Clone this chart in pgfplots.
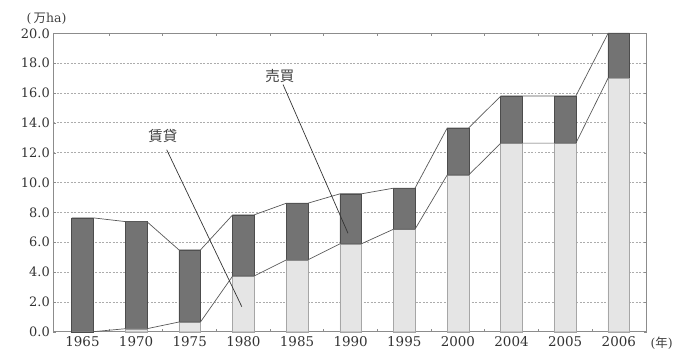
\documentclass[border=0pt]{standalone}
\usepackage{pgfplots}
\pgfplotsset{compat=1.18}
\usepackage{fontspec}
\setmainfont{DejaVu Serif}
\newfontfamily\cjk{Noto Sans CJK JP}
\definecolor{darkbar}{gray}{0.45}
\definecolor{lightbar}{gray}{0.90}
\definecolor{framegray}{gray}{0.55}
\begin{document}
\begin{tikzpicture}[x=1bp,y=1bp]
\path[use as bounding box] (-53.3bp,-26.3bp) rectangle (626.7bp,331.7bp);
\begin{axis}[
  at={(0,0)}, anchor=south west,
  scale only axis, width=593.4bp, height=298.4bp,
  xmin=-0.544, xmax=10.52, ymin=0, ymax=20,
  ybar stacked, bar width=21.7bp,
  xtick={0,...,10},
  xticklabels={1965,1970,1975,1980,1985,1990,1995,2000,2004,2005,2006},
  minor xtick={0.5,1.5,...,9.5},
  ytick={0,2,...,20},
  /pgf/number format/.cd, fixed, fixed zerofill, precision=1, assume math mode=true,
  /pgfplots/.cd,
  yticklabel style={font=\fontsize{13}{15}\selectfont, text=black!80},
  xticklabel style={font=\fontsize{13.5}{15}\selectfont, text=black!80, yshift=-1bp},
  axis line style={framegray, line width=0.8pt},
  tick style={framegray},
  major tick length=3bp, minor tick length=2.5bp,
  xtick style={draw=none},
  minor x tick style={draw=framegray, line width=1pt},
  ymajorgrids, grid style={gray!65, dash pattern=on 2pt off 1.5pt, line width=0.7pt},
  clip=false,
]
% lower (light) part
\addplot[fill=lightbar, draw=gray!70] coordinates {
(0,0.0) (1,0.2) (2,0.65) (3,3.73) (4,4.81) (5,5.89) (6,6.87) (7,10.5) (8,12.64) (9,12.64) (10,17.0)};
% upper (dark) part: total minus light
\addplot[fill=darkbar, draw=gray!60!black] coordinates {
(0,7.63) (1,7.18) (2,4.83) (3,4.10) (4,3.80) (5,3.35) (6,2.75) (7,3.15) (8,3.16) (9,3.16) (10,3.0)};
\end{axis}
\begin{axis}[
  at={(0,0)}, anchor=south west,
  scale only axis, width=593.4bp, height=298.4bp,
  xmin=-0.544, xmax=10.52, ymin=0, ymax=20,
  hide axis, clip=false,
]
% connecting line of totals
\addplot[gray!70!black, line width=0.7pt] coordinates {
(-0.2,7.63) (0.2,7.63) (0.8,7.38) (1.2,7.38) (1.8,5.48) (2.2,5.48)
(2.8,7.83) (3.2,7.83) (3.8,8.61) (4.2,8.61) (4.8,9.24) (5.2,9.24)
(5.8,9.62) (6.2,9.62) (6.8,13.65) (7.2,13.65) (7.8,15.8) (8.2,15.8)
(8.8,15.8) (9.2,15.8) (9.8,20.0) (10.2,20.0)};
% connecting line of lower part
\addplot[gray!70!black, line width=0.7pt] coordinates {
(0.2,0.0) (0.8,0.2) (1.2,0.2) (1.8,0.65) (2.2,0.65)
(2.8,3.73) (3.2,3.73) (3.8,4.81) (4.2,4.81) (4.8,5.89) (5.2,5.89)
(5.8,6.87) (6.2,6.87) (6.8,10.5) (7.2,10.5) (7.8,12.64) (8.2,12.64)
(8.8,12.64) (9.2,12.64) (9.8,17.0)};
% leader lines
\addplot[gray!40!black, line width=0.7pt] coordinates {(1.57,12.2) (2.97,1.68)};
\addplot[gray!40!black, line width=0.7pt] coordinates {(3.74,16.56) (4.95,6.6)};
\node[font=\cjk\fontsize{14.5}{16}\selectfont, text=black!75] at (axis cs:1.50,13.09) {賃貸};
\node[font=\cjk\fontsize{14.5}{16}\selectfont, text=black!75] at (axis cs:3.68,17.16) {売買};
\node[font=\fontsize{12.5}{14}\selectfont, text=black!75] at (axis cs:-0.67,21.0) {(\,{\cjk 万}ha)};
\node[font=\fontsize{12.5}{14}\selectfont, text=black!75] at (axis cs:10.8,-0.8) {({\cjk 年})};
\end{axis}
\end{tikzpicture}
\end{document}
